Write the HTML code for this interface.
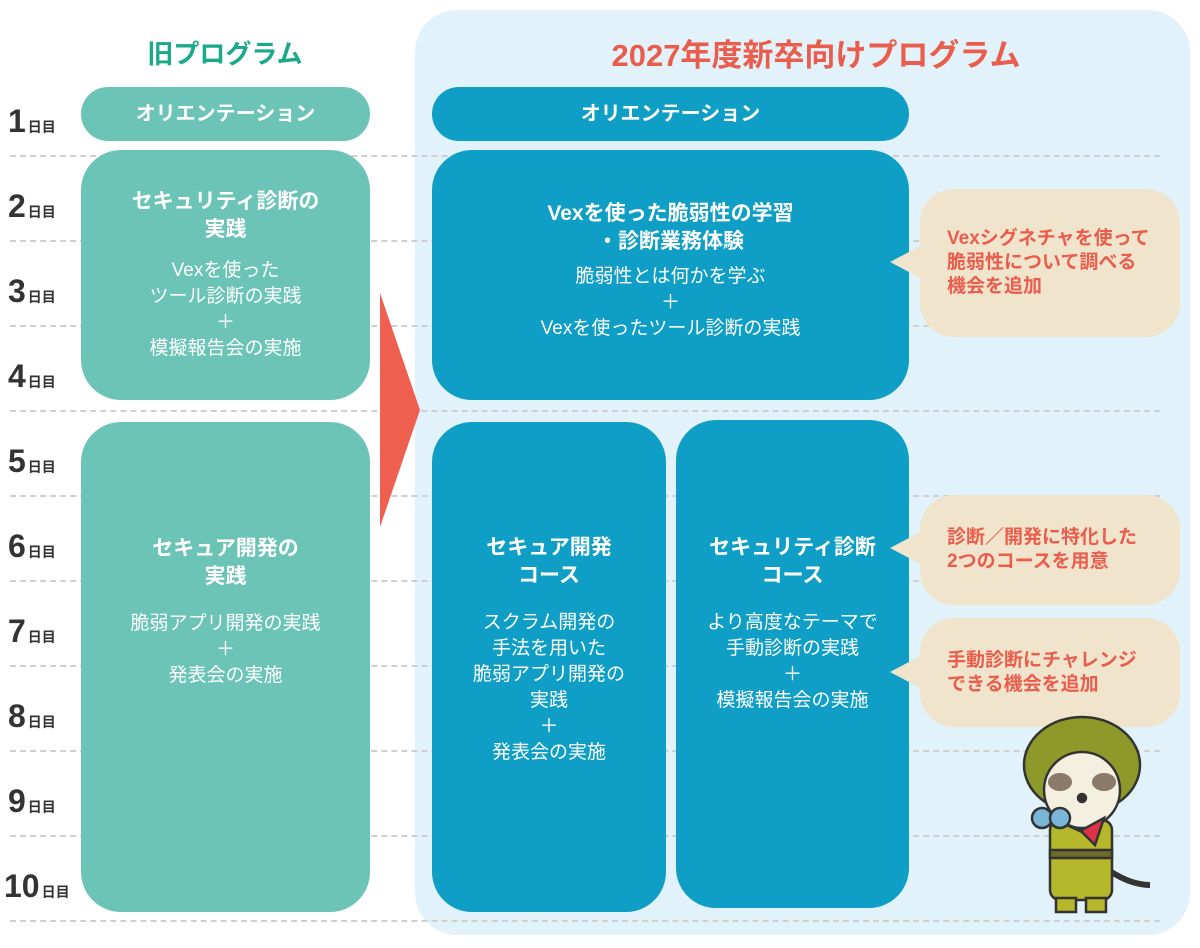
<!DOCTYPE html>
<html><head><meta charset="utf-8"><style>
*{margin:0;padding:0;box-sizing:border-box}
body{width:1200px;height:948px;background:#fff;position:relative;overflow:hidden;font-family:"Liberation Sans","Noto Sans CJK JP",sans-serif}
.a{position:absolute}
.panel{left:415px;top:10px;width:775px;height:925px;background:#e2f2fa;border-radius:42px}
.dl{left:10px;width:1150px;height:0;border-top:2px dashed #cfcfcf}
.day{left:8px;width:80px;font-weight:bold;color:#333;font-size:32px;line-height:30px;white-space:nowrap}
.day span{font-size:14px;margin-left:2px}
.box{display:flex;flex-direction:column;justify-content:center;align-items:center;text-align:center;color:#fff}
.t{background:#6bc4b5}.b{background:#0e9ec6}
.h{font-weight:bold;font-size:21px;line-height:28px}
.p{font-size:19px;line-height:26px;margin-top:14px}
.c{background:#f0e4cc;border-radius:34px;color:#ea5d4c;font-weight:bold;font-size:19px;line-height:24px;padding-left:27px;display:flex;flex-direction:column;justify-content:center}
</style></head><body>
<div class="a panel"></div>
<div class="a dl" style="top:155px"></div><div class="a dl" style="top:240px"></div><div class="a dl" style="top:325px"></div><div class="a dl" style="top:410px"></div><div class="a dl" style="top:495px"></div><div class="a dl" style="top:580px"></div><div class="a dl" style="top:665px"></div><div class="a dl" style="top:750px"></div><div class="a dl" style="top:835px"></div><div class="a dl" style="top:920px"></div>
<div class="a day" style="top:106px">1<span>日目</span></div>
<div class="a day" style="top:191px">2<span>日目</span></div>
<div class="a day" style="top:276px">3<span>日目</span></div>
<div class="a day" style="top:361px">4<span>日目</span></div>
<div class="a day" style="top:446px">5<span>日目</span></div>
<div class="a day" style="top:531px">6<span>日目</span></div>
<div class="a day" style="top:616px">7<span>日目</span></div>
<div class="a day" style="top:701px">8<span>日目</span></div>
<div class="a day" style="top:786px">9<span>日目</span></div>
<div class="a day" style="top:871px;left:4px">10<span>日目</span></div>
<div class="a" style="left:80px;width:290px;top:34px;text-align:center;color:#1ba98b;font-weight:bold;font-size:26px">旧プログラム</div>
<div class="a" style="left:556px;width:520px;top:30px;text-align:center;color:#ea5d4c;font-weight:bold;font-size:31px">2027年度新卒向けプログラム</div>
<div class="a box t" style="left:81px;top:87px;width:289px;height:54px;border-radius:27px"><div class="h" style="font-size:20px">オリエンテーション</div></div>
<div class="a box t" style="left:81px;top:150px;width:289px;height:250px;border-radius:40px"><div class="h">セキュリティ診断の<br>実践</div><div class="p">Vexを使った<br>ツール診断の実践<br>＋<br>模擬報告会の実施</div></div>
<div class="a box t" style="left:81px;top:422px;width:289px;height:490px;border-radius:40px;justify-content:flex-start;padding-top:113px"><div class="h">セキュア開発の<br>実践</div><div class="p" style="margin-top:20px">脆弱アプリ開発の実践<br>＋<br>発表会の実施</div></div>
<svg class="a" style="left:378px;top:290px" width="46" height="240"><polygon points="2,3 42,120 2,237" fill="#ef5f50"/></svg>
<div class="a box b" style="left:432px;top:87px;width:477px;height:54px;border-radius:27px"><div class="h" style="font-size:20px">オリエンテーション</div></div>
<div class="a box b" style="left:432px;top:150px;width:477px;height:250px;border-radius:40px;justify-content:flex-start;padding-top:50px"><div class="h">Vexを使った脆弱性の学習<br>・診断業務体験</div><div class="p" style="margin-top:8px">脆弱性とは何かを学ぶ<br>＋<br>Vexを使ったツール診断の実践</div></div>
<div class="a box b" style="left:432px;top:422px;width:234px;height:490px;border-radius:40px;justify-content:flex-start;padding-top:112px"><div class="h">セキュア開発<br>コース</div><div class="p" style="margin-top:20px">スクラム開発の<br>手法を用いた<br>脆弱アプリ開発の<br>実践<br>＋<br>発表会の実施</div></div>
<div class="a box b" style="left:676px;top:420px;width:233px;height:488px;border-radius:40px;justify-content:flex-start;padding-top:114px"><div class="h">セキュリティ診断<br>コース</div><div class="p" style="margin-top:20px">より高度なテーマで<br>手動診断の実践<br>＋<br>模擬報告会の実施</div></div>
<svg class="a" style="left:888px;top:180px" width="312" height="560">
<polygon points="2,82 40,62 40,102" fill="#f0e4cc"/>
<polygon points="2,368 40,348 40,388" fill="#f0e4cc"/>
<polygon points="2,492 40,472 40,512" fill="#f0e4cc"/>
</svg>
<div class="a c" style="left:920px;top:189px;width:260px;height:148px">Vexシグネチャを使って<br>脆弱性について調べる<br>機会を追加</div>
<div class="a c" style="left:920px;top:495px;width:260px;height:110px">診断／開発に特化した<br>2つのコースを用意</div>
<div class="a c" style="left:920px;top:618px;width:260px;height:109px">手動診断にチャレンジ<br>できる機会を追加</div>
<svg class="a" style="left:1020px;top:710px" width="130" height="210" stroke="#333" stroke-width="2.5">
<path d="M75,150 q30,25 55,25" fill="none" stroke-width="6"/>
<rect x="30" y="110" width="62" height="80" rx="10" fill="#b5b82a"/>
<rect x="36" y="188" width="20" height="14" fill="#b5b82a"/><rect x="66" y="188" width="20" height="14" fill="#b5b82a"/>
<rect x="30" y="140" width="62" height="8" fill="#6d6a2a"/>
<ellipse cx="62" cy="55" rx="58" ry="48" fill="#8d9a2a"/>
<ellipse cx="62" cy="80" rx="38" ry="38" fill="#f4f0e0"/>
<ellipse cx="40" cy="72" rx="12" ry="9" fill="#8a7a6a" stroke="none"/><ellipse cx="84" cy="72" rx="12" ry="9" fill="#8a7a6a" stroke="none"/>
<ellipse cx="62" cy="88" rx="4" ry="4" fill="#333"/>
<polygon points="40,112 62,120 84,108 75,135 62,122" fill="#e0334a"/>
<circle cx="22" cy="108" r="10" fill="#7ab6d8"/><circle cx="40" cy="108" r="10" fill="#7ab6d8"/>
</svg>
</body></html>
